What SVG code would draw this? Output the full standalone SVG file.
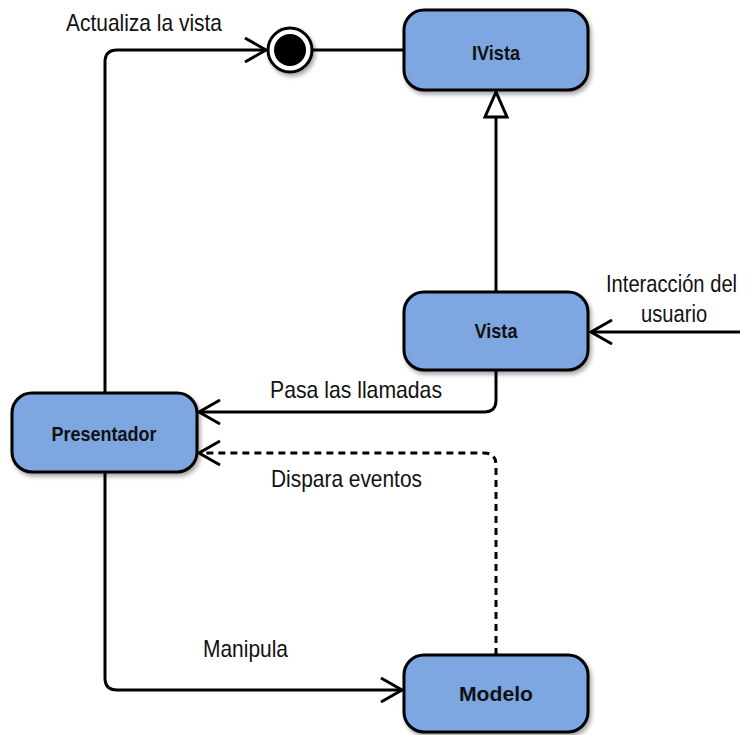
<svg xmlns="http://www.w3.org/2000/svg" width="749" height="735" viewBox="0 0 749 735">
  <style>
    .node { fill: #7EA6E0; stroke: #000; stroke-width: 3; filter: url(#sh); }
    .ntext { font-family: "Liberation Sans", Arial, sans-serif; font-weight: bold; font-size: 21px; fill: #111; text-anchor: middle; }
    .lbl { font-family: "Liberation Sans", Arial, sans-serif; font-size: 24px; fill: #111; }
    .conn { fill: none; stroke: #000; stroke-width: 3; }
    .dash { stroke-dasharray: 7 5; }
  </style>
  <defs>
    <filter id="sh" x="-20%" y="-20%" width="140%" height="150%">
      <feDropShadow dx="2" dy="3" stdDeviation="2" flood-color="#000" flood-opacity="0.35"/>
    </filter>
    <marker id="open" viewBox="-25 -15 30 30" refX="0" refY="0" markerWidth="30" markerHeight="30" markerUnits="userSpaceOnUse" orient="auto">
      <path d="M-21,-12 L0,0 L-21,12" fill="none" stroke="#000" stroke-width="3" stroke-dasharray="none"/>
    </marker>
    <marker id="tri" viewBox="-28 -14 32 28" refX="0" refY="0" markerWidth="32" markerHeight="28" markerUnits="userSpaceOnUse" orient="auto">
      <path d="M0,0 L-25,-11 L-25,11 Z" fill="#fff" stroke="#000" stroke-width="3"/>
    </marker>
  </defs>

  <g id="connectors">
    <path class="conn" d="M105,393 V62 Q105,50 117,50 H266" marker-end="url(#open)"/>
    <path class="conn" d="M313,50 H404"/>
    <path class="conn" d="M496,292 V92" marker-end="url(#tri)"/>
    <path class="conn" d="M496,370 V400 Q496,412 484,412 H199" marker-end="url(#open)"/>
    <path class="conn" d="M740,332 H591" marker-end="url(#open)"/>
    <path class="conn dash" d="M496,655 V465 Q496,453 484,453 H199" marker-end="url(#open)"/>
    <path class="conn" d="M105,472 V678 Q105,690 117,690 H402" marker-end="url(#open)"/>
  </g>

  <g id="labels">
    <text class="lbl" x="66" y="31" textLength="156" lengthAdjust="spacingAndGlyphs">Actualiza la vista</text>
    <text class="lbl" transform="translate(606,292) scale(0.84,1)" x="0" y="0">Interacción del</text>
    <text class="lbl" transform="translate(641,322) scale(0.84,1)" x="0" y="0">usuario</text>
    <text class="lbl" x="270" y="398" textLength="172" lengthAdjust="spacingAndGlyphs">Pasa las llamadas</text>
    <text class="lbl" x="271" y="487" textLength="151" lengthAdjust="spacingAndGlyphs">Dispara eventos</text>
    <text class="lbl" x="203" y="657" textLength="85" lengthAdjust="spacingAndGlyphs">Manipula</text>
  </g>

  <g id="endpoint">
    <circle cx="290" cy="50" r="22" fill="#fff" stroke="#000" stroke-width="3" filter="url(#sh)"/>
    <circle cx="290" cy="50" r="16" fill="#000"/>
  </g>

  <g id="IVista">
    <rect class="node" x="404" y="10" width="184" height="80" rx="20" ry="20"/>
    <text class="ntext" x="496" y="60" textLength="48" lengthAdjust="spacingAndGlyphs">IVista</text>
  </g>
  <g id="Vista">
    <rect class="node" x="404" y="292" width="184" height="78" rx="20" ry="20"/>
    <text class="ntext" x="496" y="338" textLength="43" lengthAdjust="spacingAndGlyphs">Vista</text>
  </g>
  <g id="Presentador">
    <rect class="node" x="12" y="393" width="185" height="79" rx="20" ry="20"/>
    <text class="ntext" x="104" y="441" textLength="105" lengthAdjust="spacingAndGlyphs">Presentador</text>
  </g>
  <g id="Modelo">
    <rect class="node" x="404" y="655" width="184" height="77" rx="20" ry="20"/>
    <text class="ntext" x="496" y="701" textLength="74" lengthAdjust="spacingAndGlyphs">Modelo</text>
  </g>
</svg>
